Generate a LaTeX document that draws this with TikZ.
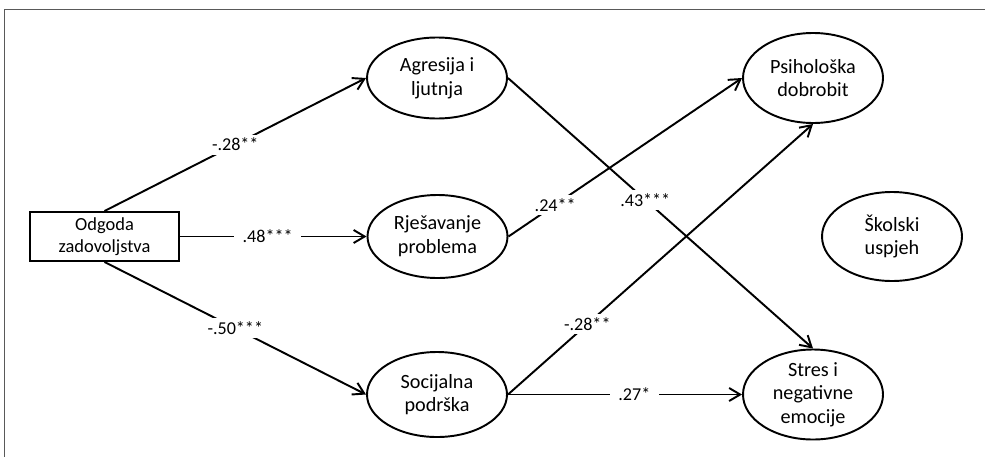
\documentclass[tikz,border=0pt]{standalone}
\usepackage{fontspec}
\setmainfont{Carlito}
\usepackage{tikz}
\usetikzlibrary{shapes.geometric,arrows.meta}

\begin{document}
\begin{tikzpicture}[
		>={Straight Barb[length=2.2mm,width=2.6mm]},
		every path/.style={line width=1.1pt},
		latent/.style={ellipse,draw,inner sep=-1mm,minimum width=2.8cm,minimum height=1.7cm,align=center,font=\fontsize{11.5}{13.5}\selectfont},
		observed/.style={rectangle,draw,minimum width=2.98cm,minimum height=0.98cm,inner sep=0pt,align=center,font=\fontsize{10.5}{12.5}\selectfont},
		coef/.style={fill=white,inner xsep=5pt,inner ysep=2pt,font=\fontsize{10.3}{12}\selectfont}]
		\useasboundingbox (0,0) rectangle (19.7,9.14);
		% frame
		\draw[gray!70!black,line width=0.8pt] (19.7,8.95) -- (0.09,8.95) -- (0.09,0);

		\node[observed] (odgoda) at (2.09,4.41) {Odgoda\\zadovoljstva};
		\node[latent,minimum height=1.62cm] (agresija) at (8.74,7.58) {Agresija i\\ljutnja};
		\node[latent,minimum height=1.66cm] (rjesavanje) at (8.75,4.41) {Rješavanje\\problema};
		\node[latent] (socijalna) at (8.74,1.25) {Socijalna\\podrška};
		\node[latent,minimum height=1.8cm] (psiholoska) at (16.26,7.58) {Psihološka\\dobrobit};
		\node[latent,minimum height=1.8cm] (stres) at (16.26,1.25) {Stres i\\negativne\\emocije};
		\node[latent,minimum height=1.78cm] (skolski) at (17.84,4.41) {Školski\\uspjeh};

		\draw[->] (odgoda.north) -- node[coef] {-.28**} (agresija.west);
		\draw[->] (odgoda) -- node[coef,pos=0.47] {.48***} (rjesavanje);
		\draw[->] (odgoda.south) -- node[coef] {-.50***} (socijalna.west);

		\draw[->] (rjesavanje.east) -- node[coef,pos=0.2] {.24**} (psiholoska.west);
		\draw[->] (agresija.east) -- node[coef,pos=0.45] {.43***} (stres.north);
		\draw[->] (socijalna.east) -- node[coef,pos=0.26] {-.28**} (psiholoska.south);
		\draw[->] (socijalna) -- node[coef,pos=0.54] {.27*} (stres);
	\end{tikzpicture}
\end{document}
